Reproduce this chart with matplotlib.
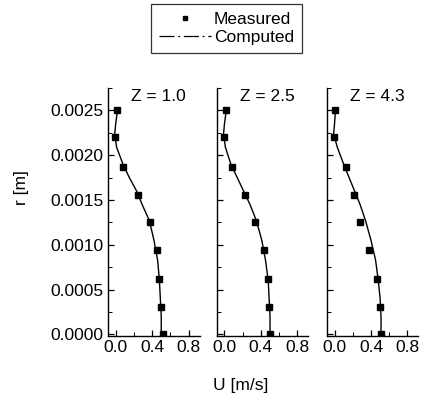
import matplotlib
matplotlib.use("Agg")
import matplotlib.pyplot as plt
from matplotlib.ticker import MultipleLocator, FormatStrFormatter
from matplotlib.lines import Line2D

plt.rcParams['font.family'] = ['Liberation Sans', 'DejaVu Sans']

z_labels = ["Z = 1.0", "Z = 2.5", "Z = 4.3"]

r_meas = [0.0025, 0.0022, 0.00187, 0.00156, 0.00125, 0.00094, 0.00062, 0.00031, 0.0]
u_meas = [
    [0.02, -0.01, 0.08, 0.24, 0.38, 0.45, 0.48, 0.50, 0.52],
    [0.02, -0.01, 0.08, 0.23, 0.34, 0.43, 0.48, 0.49, 0.50],
    [0.00, -0.01, 0.13, 0.21, 0.28, 0.38, 0.47, 0.50, 0.51],
]

r_comp = [0.0025, 0.00235, 0.00224, 0.00209, 0.0019, 0.00175, 0.0016, 0.00145,
          0.00127, 0.00105, 0.00083, 0.0006, 0.0004, 0.0002, 0.0]
u_comp = [
    [0.02, 0.00, -0.01, 0.01, 0.08, 0.15, 0.23, 0.29, 0.37, 0.42, 0.46, 0.48, 0.49, 0.50, 0.50],
    [0.02, 0.00, -0.01, 0.01, 0.07, 0.14, 0.21, 0.28, 0.35, 0.41, 0.45, 0.48, 0.49, 0.50, 0.50],
    [0.01, 0.00, -0.01, 0.03, 0.10, 0.16, 0.22, 0.28, 0.34, 0.40, 0.45, 0.48, 0.50, 0.51, 0.51],
]

FS = 12.5

fig = plt.figure(figsize=(4.3, 4.04), dpi=100)
lefts = [0.251, 0.504, 0.760]
axes = []
for i, left in enumerate(lefts):
    ax = fig.add_axes([left, 0.168, 0.213, 0.614])
    axes.append(ax)
    ax.plot(u_comp[i], r_comp, color='black', linewidth=1.0)
    ax.plot(u_meas[i], r_meas, linestyle='none', marker='s', markersize=4.5,
            color='black')
    ax.set_xlim(-0.085, 0.92)
    ax.set_ylim(-0.00002, 0.00275)
    ax.spines['top'].set_visible(False)
    ax.spines['right'].set_visible(False)
    for s in ('left', 'bottom'):
        ax.spines[s].set_linewidth(1.0)
    ax.xaxis.set_major_locator(MultipleLocator(0.4))
    ax.xaxis.set_minor_locator(MultipleLocator(0.2))
    ax.xaxis.set_major_formatter(FormatStrFormatter('%.1f'))
    ax.yaxis.set_major_locator(MultipleLocator(0.0005))
    ax.yaxis.set_minor_locator(MultipleLocator(0.00025))
    ax.yaxis.set_major_formatter(FormatStrFormatter('%.4f'))
    ax.tick_params(which='major', direction='in', length=4, width=0.9,
                   labelsize=FS, pad=3)
    ax.tick_params(which='minor', direction='in', length=3, width=0.7)
    if i > 0:
        ax.tick_params(axis='y', labelleft=False)
    ax.text(0.55, 0.965, z_labels[i], transform=ax.transAxes, ha='center',
            va='center', fontsize=FS)

fig.text(0.05, 0.535, 'r [m]', ha='center', va='center', rotation=90,
         fontsize=FS)
fig.text(0.559, 0.047, 'U [m/s]', ha='center', va='center', fontsize=FS)

handles = [
    Line2D([], [], linestyle='none', marker='s', markersize=3.5, color='black'),
    Line2D([], [], linestyle=(0, (12, 3, 1.5, 3)), color='black', linewidth=0.9),
]
leg = fig.legend(handles, ['Measured', 'Computed'], loc='upper center',
                 bbox_to_anchor=(0.527, 0.99), fontsize=FS, frameon=True,
                 fancybox=False, edgecolor='black', handlelength=3.0,
                 borderpad=0.45, labelspacing=0.15, handletextpad=0.15,
                 borderaxespad=0)
leg.get_frame().set_linewidth(0.9)

fig.savefig('out.png', dpi=100)
